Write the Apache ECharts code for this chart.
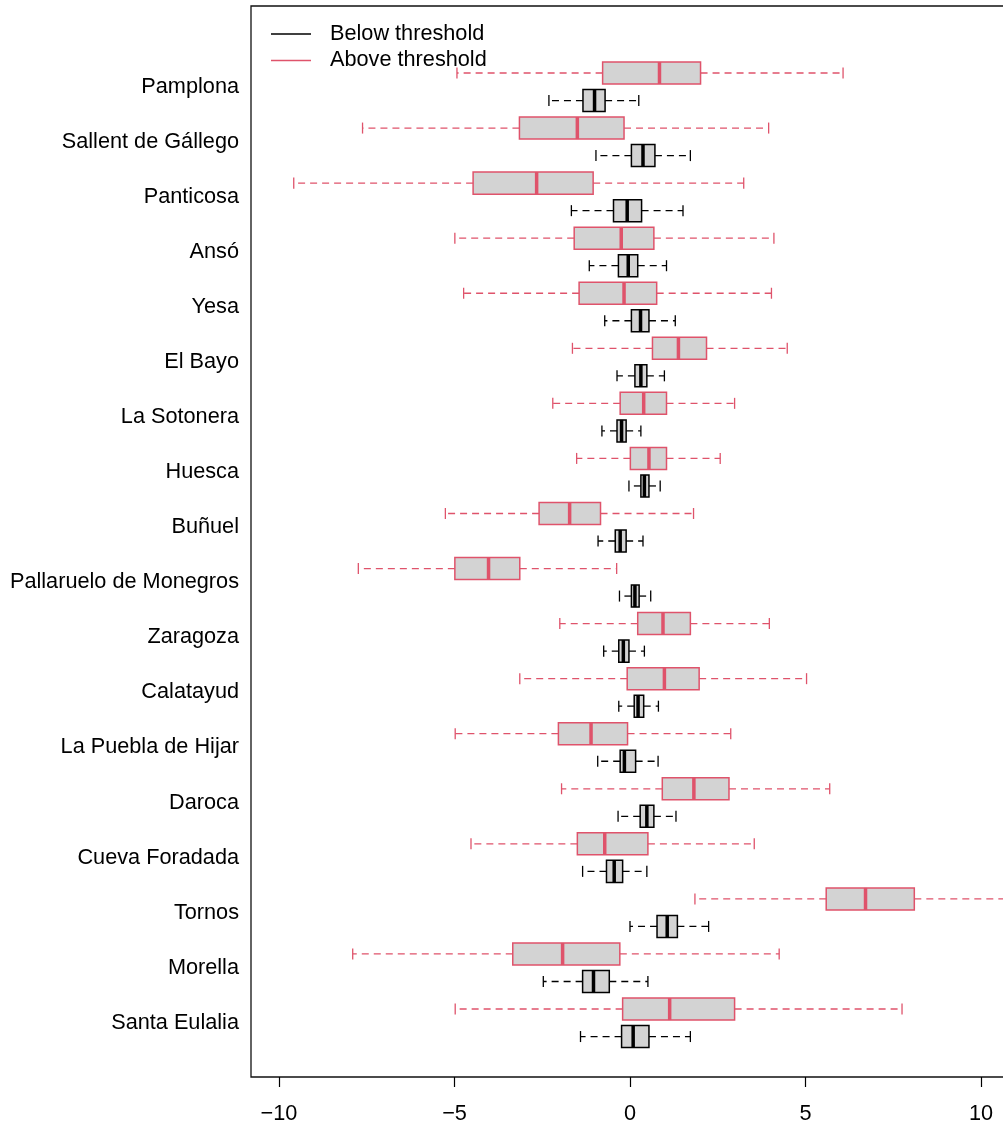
<!DOCTYPE html>
<html>
<head>
<meta charset="utf-8">
<script src="https://cdn.jsdelivr.net/npm/echarts@6/dist/echarts.min.js"></script>
<style>
html,body{margin:0;padding:0;background:#fff;}
#chart{width:1003px;height:1130px;}
</style>
</head>
<body>
<div id="chart"></div>
<script>
const stations = ["Pamplona","Sallent de Gállego","Panticosa","Ansó","Yesa","El Bayo","La Sotonera","Huesca","Buñuel","Pallaruelo de Monegros","Zaragoza","Calatayud","La Puebla de Hijar","Daroca","Cueva Foradada","Tornos","Morella","Santa Eulalia"];

// Above threshold (red)
const aboveMin    = [-4.93,-7.62,-9.58,-4.99,-4.74,-1.64,-2.20,-1.52,-5.26,-7.74,-2.00,-3.14,-4.98,-1.95,-4.53, 1.85,-7.90,-4.98];
const aboveQ1     = [-0.78,-3.15,-4.47,-1.59,-1.45, 0.64,-0.28, 0.01,-2.59,-4.99, 0.22,-0.08,-2.04, 0.92,-1.50, 5.59,-3.34,-0.21];
const aboveMedian = [ 0.84,-1.50,-2.66,-0.25,-0.17, 1.38, 0.39, 0.54,-1.72,-4.03, 0.94, 0.98,-1.11, 1.82,-0.72, 6.71,-1.92, 1.13];
const aboveQ3     = [ 2.01,-0.17,-1.05, 0.68, 0.76, 2.18, 1.04, 1.04,-0.84,-3.14, 1.72, 1.97,-0.07, 2.82, 0.51, 8.10,-0.29, 2.98];
const aboveMax    = [ 6.07, 3.95, 3.24, 4.10, 4.03, 4.48, 2.98, 2.57, 1.81,-0.38, 3.97, 5.03, 2.87, 5.69, 3.54,11.60, 4.25, 7.75];

// Below threshold (black)
const belowMin    = [-2.31,-0.97,-1.67,-1.16,-0.72,-0.37,-0.80,-0.03,-0.91,-0.30,-0.75,-0.32,-0.92,-0.34,-1.35, 0.00,-2.47,-1.41];
const belowQ1     = [-1.34, 0.04,-0.47,-0.33, 0.04, 0.14,-0.37, 0.31,-0.42, 0.04,-0.32, 0.12,-0.28, 0.29,-0.67, 0.77,-1.35,-0.24];
const belowMedian = [-1.01, 0.37,-0.08,-0.05, 0.30, 0.31,-0.24, 0.41,-0.28, 0.14,-0.19, 0.23,-0.16, 0.48,-0.45, 1.06,-1.04, 0.09];
const belowQ3     = [-0.71, 0.71, 0.33, 0.22, 0.54, 0.48,-0.11, 0.54,-0.11, 0.26,-0.03, 0.39, 0.16, 0.68,-0.21, 1.35,-0.59, 0.54];
const belowMax    = [ 0.25, 1.72, 1.51, 1.04, 1.29, 0.98, 0.31, 0.86, 0.37, 0.59, 0.41, 0.81, 0.80, 1.31, 0.48, 2.24, 0.51, 1.72];

const xTicks = [-10, -5, 0, 5, 10];

const RED = '#DF536B';
const BLACK = '#000000';
const FILL = '#D3D3D3';
const FONT = 'Liberation Sans, Arial, Helvetica, sans-serif';
const FS = 21.7;

const aboveData = stations.map((s, i) => [2 * i + 1, aboveMin[i], aboveQ1[i], aboveMedian[i], aboveQ3[i], aboveMax[i]]);
const belowData = stations.map((s, i) => [2 * i + 2, belowMin[i], belowQ1[i], belowMedian[i], belowQ3[i], belowMax[i]]);
const labelPos = stations.map((s, i) => 2 * i + 1.5);

function makeRender(color) {
  return function (params, api) {
    const y = api.value(0);
    const pLow = api.coord([api.value(1), y]);
    const pQ1 = api.coord([api.value(2), y]);
    const pMed = api.coord([api.value(3), y]);
    const pQ3 = api.coord([api.value(4), y]);
    const pHigh = api.coord([api.value(5), y]);
    const h = api.size([0, 1])[1] * 0.4;
    const cy = pMed[1];
    const dash = { stroke: color, lineWidth: 1.3, lineDash: [7, 5], fill: null };
    const solid = { stroke: color, lineWidth: 1.3, fill: null };
    return {
      type: 'group',
      children: [
        { type: 'line', shape: { x1: pQ1[0], y1: cy, x2: pLow[0], y2: cy }, style: dash },
        { type: 'line', shape: { x1: pQ3[0], y1: cy, x2: pHigh[0], y2: cy }, style: dash },
        { type: 'line', shape: { x1: pLow[0], y1: cy - h / 2, x2: pLow[0], y2: cy + h / 2 }, style: solid },
        { type: 'line', shape: { x1: pHigh[0], y1: cy - h / 2, x2: pHigh[0], y2: cy + h / 2 }, style: solid },
        { type: 'rect', shape: { x: pQ1[0], y: cy - h, width: pQ3[0] - pQ1[0], height: 2 * h }, style: { fill: FILL, stroke: color, lineWidth: 1.5 } },
        { type: 'line', shape: { x1: pMed[0], y1: cy - h, x2: pMed[0], y2: cy + h }, style: { stroke: color, lineWidth: 3.5 } }
      ]
    };
  };
}

const chart = echarts.init(document.getElementById('chart'), null, { renderer: 'canvas' });
chart.setOption({
  animation: false,
  backgroundColor: '#ffffff',
  textStyle: { fontFamily: FONT },
  grid: {
    left: 251, right: -10, top: 6, bottom: 53,
    show: true, borderColor: '#111', borderWidth: 1.3, backgroundColor: 'transparent',
    containLabel: false, outerBoundsMode: 'none'
  },
  legend: {
    orient: 'vertical',
    left: 271, top: 23, padding: 0,
    itemWidth: 40, itemHeight: 1.6, itemGap: 4.5,
    selectedMode: false,
    textStyle: { fontSize: FS, color: '#000', fontFamily: FONT, padding: [0, 0, 0, 14] },
    data: [
      { name: 'Below threshold', icon: 'rect' },
      { name: 'Above threshold', icon: 'rect' }
    ]
  },
  xAxis: {
    type: 'value',
    position: 'bottom',
    min: (251 - 630) / 35.1,
    max: (1013 - 630) / 35.1,
    axisLine: { show: false, onZero: false },
    splitLine: { show: false },
    axisTick: { show: true, customValues: xTicks, length: 10, lineStyle: { color: '#000', width: 1.2 } },
    axisLabel: {
      customValues: xTicks,
      margin: 26, fontSize: FS, color: '#000', fontFamily: FONT,
      formatter: v => (v < 0 ? '\u2212' + Math.abs(v) : String(v))
    }
  },
  yAxis: {
    type: 'value',
    inverse: true,
    min: 1 - 67 / 27.53,
    max: 1 + 1004 / 27.53,
    axisLine: { show: false, onZero: false },
    axisTick: { show: false },
    splitLine: { show: false },
    axisLabel: {
      customValues: labelPos,
      margin: 12, fontSize: FS, color: '#000', fontFamily: FONT,
      formatter: v => stations[Math.round((v - 1.5) / 2)] || ''
    }
  },
  series: [
    {
      name: 'Below threshold',
      type: 'custom',
      clip: true,
      itemStyle: { color: BLACK },
      renderItem: makeRender(BLACK),
      encode: { x: [1, 2, 3, 4, 5], y: 0 },
      data: belowData
    },
    {
      name: 'Above threshold',
      type: 'custom',
      clip: true,
      itemStyle: { color: RED },
      renderItem: makeRender(RED),
      encode: { x: [1, 2, 3, 4, 5], y: 0 },
      data: aboveData
    }
  ]
});
</script>
</body>
</html>
